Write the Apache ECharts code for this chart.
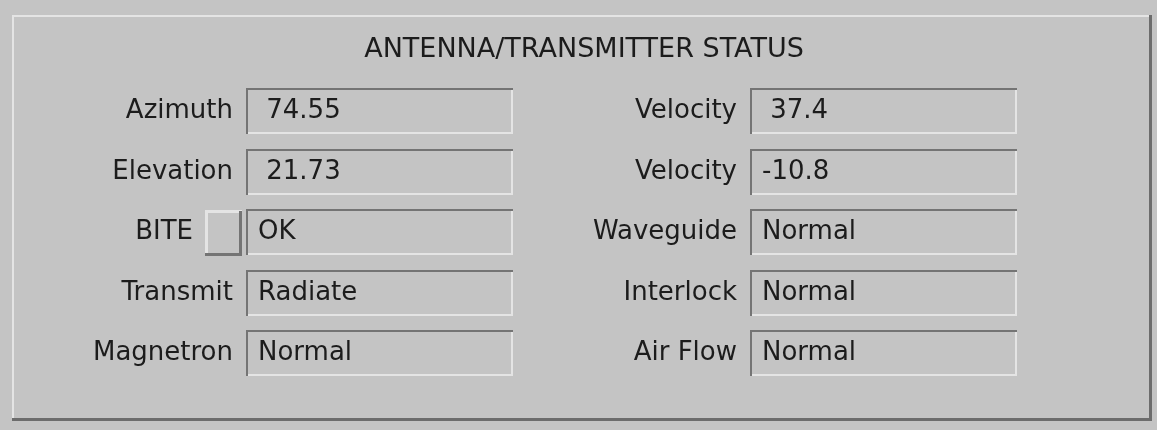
<!DOCTYPE html>
<html>
<head>
<meta charset="utf-8">
<script src="https://cdn.jsdelivr.net/npm/echarts@6/dist/echarts.min.js"></script>
<style>
html,body{margin:0;padding:0;background:#c4c4c4;}
#c{width:1157px;height:430px;}
</style>
</head>
<body>
<div id="c"></div>
<script>
var titleText = 'ANTENNA/TRANSMITTER STATUS';
var columns = ['left', 'right'];
var rows = ['r1', 'r2', 'r3', 'r4', 'r5'];
var leftLabels = ['Azimuth', 'Elevation', 'BITE', 'Transmit', 'Magnetron'];
var leftValues = [74.55, 21.73, 'OK', 'Radiate', 'Normal'];
var rightLabels = ['Velocity', 'Velocity', 'Waveguide', 'Interlock', 'Air Flow'];
var rightValues = [37.4, -10.8, 'Normal', 'Normal', 'Normal'];
var buttonRows = ['BITE'];

var FONT = '"DejaVu Sans", sans-serif';
var BG = '#c4c4c4';
var DARK = '#747474';
var LIGHT = '#e4e4e4';
var TEXT = '#1c1c1c';

function fmt(v) {
  if (typeof v === 'number') return (v >= 0 ? ' ' : '') + String(v);
  return v;
}

var items = [];
leftLabels.forEach(function (l, i) {
  items.push({col: 0, row: i, label: l, value: fmt(leftValues[i]), btn: buttonRows.indexOf(l) >= 0});
});
rightLabels.forEach(function (l, i) {
  items.push({col: 1, row: i, label: l, value: fmt(rightValues[i]), btn: buttonRows.indexOf(l) >= 0});
});
var data = items.map(function (it) { return [it.col, it.row]; });

function renderItem(params, api) {
  var it = items[params.dataIndex];
  var pt = api.coord([api.value(0), api.value(1)]);
  var w = 267, h = 46;
  var x0 = Math.round(pt[0] - w / 2), y0 = Math.round(pt[1] - h / 2);
  var cy = y0 + h / 2;
  var ch = [
    {type: 'rect', shape: {x: x0, y: y0, width: w, height: h}, style: {fill: BG}},
    {type: 'rect', shape: {x: x0, y: y0 + h - 2, width: w, height: 2}, style: {fill: LIGHT}},
    {type: 'rect', shape: {x: x0 + w - 2, y: y0, width: 2, height: h}, style: {fill: LIGHT}},
    {type: 'rect', shape: {x: x0, y: y0, width: w, height: 2}, style: {fill: DARK}},
    {type: 'rect', shape: {x: x0, y: y0, width: 2, height: h}, style: {fill: DARK}},
    {type: 'text', style: {x: x0 + 12, y: cy, text: it.value, textAlign: 'left', textVerticalAlign: 'middle',
      font: '26px ' + FONT, fill: TEXT, whiteSpace: 'pre'}}
  ];
  var labelRight = x0 - 13;
  if (it.btn) {
    var bx = x0 - 41, by = y0 + 1, bw = 37, bh = 46;
    ch.push({type: 'rect', shape: {x: bx, y: by, width: bw, height: bh}, style: {fill: BG}});
    ch.push({type: 'rect', shape: {x: bx, y: by, width: bw, height: 3}, style: {fill: LIGHT}});
    ch.push({type: 'rect', shape: {x: bx, y: by, width: 3, height: bh}, style: {fill: LIGHT}});
    ch.push({type: 'rect', shape: {x: bx, y: by + bh - 3, width: bw, height: 3}, style: {fill: DARK}});
    ch.push({type: 'rect', shape: {x: bx + bw - 3, y: by + 1, width: 3, height: bh - 1}, style: {fill: DARK}});
    labelRight = bx - 12;
  }
  ch.push({type: 'text', style: {x: labelRight, y: cy, text: it.label, textAlign: 'right', textVerticalAlign: 'middle',
    font: '26px ' + FONT, fill: TEXT}});
  return {type: 'group', children: ch};
}

var chart = echarts.init(document.getElementById('c'), null, {renderer: 'canvas'});
chart.setOption({
  backgroundColor: BG,
  animation: false,
  graphic: [
    {type: 'rect', z: -10, shape: {x: 12, y: 15, width: 1140, height: 406}, style: {fill: BG}},
    {type: 'rect', z: -9, shape: {x: 12, y: 15, width: 1140, height: 2}, style: {fill: LIGHT}},
    {type: 'rect', z: -9, shape: {x: 12, y: 15, width: 2, height: 406}, style: {fill: LIGHT}},
    {type: 'rect', z: -9, shape: {x: 12, y: 418, width: 1140, height: 3}, style: {fill: '#6c6c6c'}},
    {type: 'rect', z: -9, shape: {x: 1149, y: 15, width: 3, height: 406}, style: {fill: '#6c6c6c'}},
    {type: 'text', z: 5, style: {x: 584, y: 50, text: titleText, textAlign: 'center', textVerticalAlign: 'middle',
      font: '27px ' + FONT, fill: TEXT}}
  ],
  grid: {left: 127.75, right: 22.25, top: 80.75, bottom: 46.75},
  xAxis: {type: 'category', data: columns, show: false},
  yAxis: {type: 'category', data: rows, inverse: true, show: false},
  series: [{
    type: 'custom',
    renderItem: renderItem,
    data: data,
    silent: true
  }]
});
</script>
</body>
</html>
